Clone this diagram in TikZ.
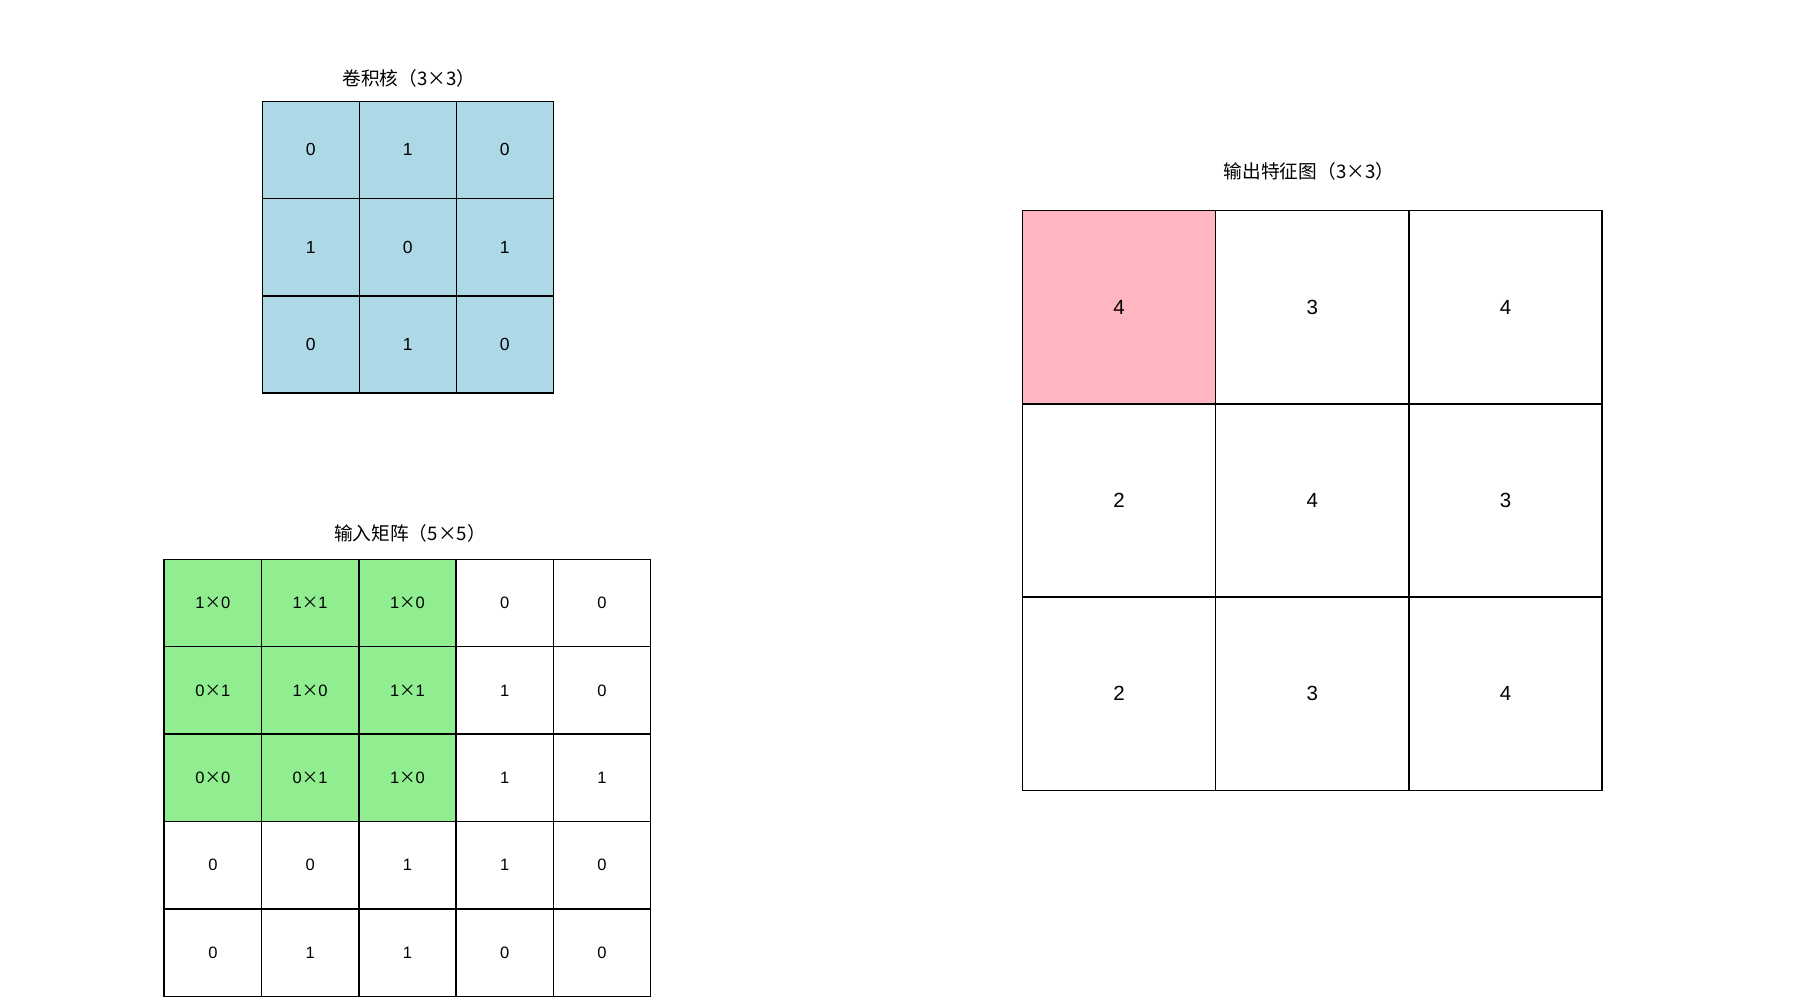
\documentclass[tikz,border=0pt]{standalone}
\usepackage{fontspec}
\setmainfont{Liberation Sans}
\newfontfamily\cjk{Noto Sans CJK SC}
\newfontfamily\digitfont{Liberation Sans}
\newcommand\mulx{{\cjk ×}}
\begin{document}
\begin{tikzpicture}[x=1pt,y=-1pt,
  cellbase/.style={draw=black,line width=1.5pt,rectangle,inner sep=0pt,anchor=center},
  kcell/.style={cellbase,fill=kblue,minimum width=97pt,minimum height=97pt,font=\digitfont\fontsize{17.5}{19}\selectfont},
  icell/.style={cellbase,fill=white,minimum width=97.3pt,minimum height=87.4pt,font=\digitfont\fontsize{16.5}{18}\selectfont},
  ihl/.style={fill=igreen},
  ocell/.style={cellbase,fill=white,minimum width=193.3pt,minimum height=193.2pt,font=\digitfont\fontsize{20.5}{23}\selectfont},
  ohl/.style={fill=opink},
  titlelab/.style={font=\cjk\fontsize{18.7}{22}\selectfont,inner sep=0pt,anchor=center}
]
\definecolor{kblue}{HTML}{ADD8E6}
\definecolor{igreen}{HTML}{90EE90}
\definecolor{opink}{HTML}{FFB6C1}
\useasboundingbox (0,0) rectangle (1800,1000);
\fill[white] (0,0) rectangle (1800,1000);

% Kernel
\node[titlelab] (ktitle) at (409,78) {卷积核（3×3）};
\foreach \r/\c/\v in {1/1/0,1/2/1,1/3/0,2/1/1,2/2/0,2/3/1,3/1/0,3/2/1,3/3/0}{
  \node[kcell] (k\r\c) at ({262.3+97*(\c-0.5)},{101.3+97.2*(\r-0.5)}) {\v};
}

% Input
\node[titlelab] (ititle) at (410,533) {输入矩阵（5×5）};
\foreach \r/\c/\v/\h in {
 1/1/1\mulx0/ihl,1/2/1\mulx1/ihl,1/3/1\mulx0/ihl,1/4/0/,1/5/0/,
 2/1/0\mulx1/ihl,2/2/1\mulx0/ihl,2/3/1\mulx1/ihl,2/4/1/,2/5/0/,
 3/1/0\mulx0/ihl,3/2/0\mulx1/ihl,3/3/1\mulx0/ihl,3/4/1/,3/5/1/,
 4/1/0/,4/2/0/,4/3/1/,4/4/1/,4/5/0/,
 5/1/0/,5/2/1/,5/3/1/,5/4/0/,5/5/0/}{
  \node[icell,\h] (i\r\c) at ({164.2+97.3*(\c-0.5)},{559.3+87.4*(\r-0.5)}) {\v};
}

% Output
\node[titlelab] (otitle) at (1309,171.5) {输出特征图（3×3）};
\foreach \r/\c/\v/\h in {1/1/4/ohl,1/2/3/,1/3/4/,2/1/2/,2/2/4/,2/3/3/,3/1/2/,3/2/3/,3/3/4/}{
  \node[ocell,\h] (o\r\c) at ({1022.3+193.3*(\c-0.5)},{210.7+193.2*(\r-0.5)}) {\v};
}
\end{tikzpicture}
\end{document}
